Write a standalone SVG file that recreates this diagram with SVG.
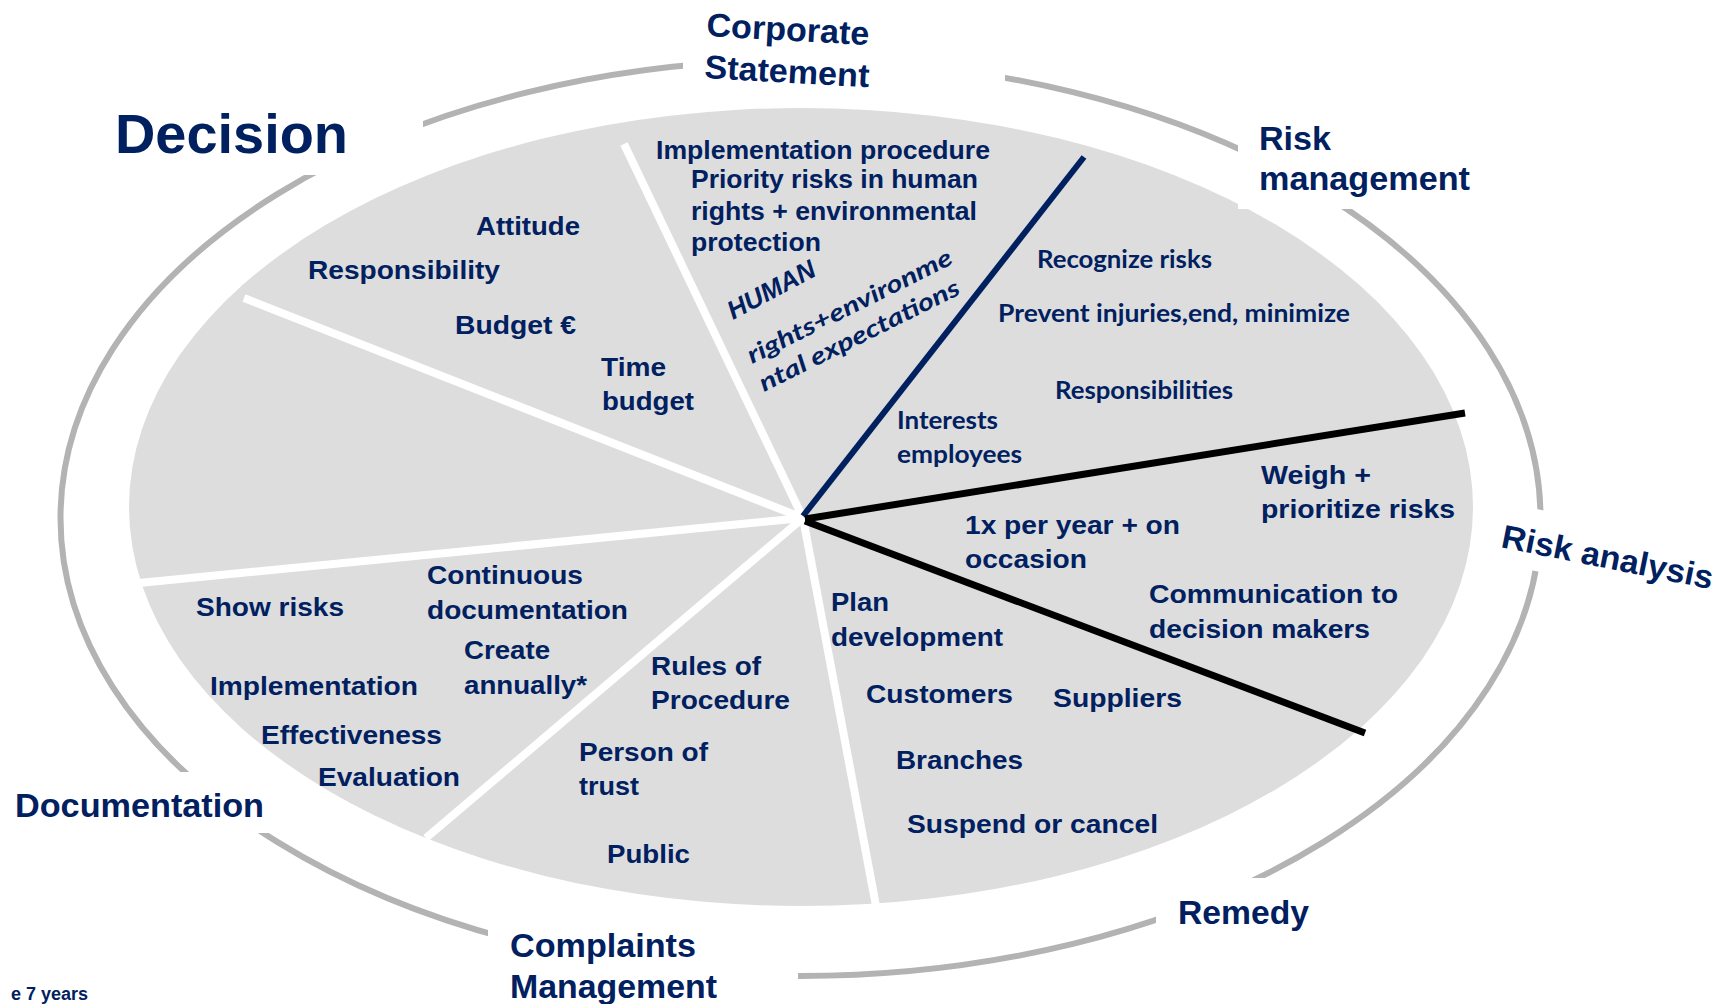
<svg xmlns="http://www.w3.org/2000/svg" width="1721" height="1004" viewBox="0 0 1721 1004">
<style>
text{font-family:"Liberation Sans",Arial,sans-serif;font-weight:bold;fill:#002060}
.h{font-size:33px}
.big{font-size:56px}
.t{font-size:26px}
.c{font-family:Lato,"Open Sans",sans-serif;font-size:24px}
.ci{font-family:Lato,"Open Sans",sans-serif;font-size:24px;font-style:italic}
.box{fill:#ffffff}
.ring{fill:none;stroke:#b3b3b3;stroke-width:6}
.wsp{stroke:#ffffff;stroke-width:8}
</style>
<rect width="1721" height="1004" fill="#ffffff"/>
<g id="ring"><ellipse class="ring" cx="800.5" cy="518" rx="740" ry="458"/></g>
<g id="pie"><ellipse cx="801" cy="507" rx="672" ry="399" fill="#dddddd"/></g>
<g id="connectors">
<line class="wsp" x1="803" y1="518" x2="244" y2="298"/>
<line class="wsp" x1="803" y1="518" x2="624" y2="144"/>
<line class="wsp" x1="803" y1="518" x2="876" y2="906"/>
<line class="wsp" x1="803" y1="518" x2="426" y2="838"/>
<line class="wsp" x1="803" y1="518" x2="139" y2="583"/>
<line x1="803" y1="516" x2="1084" y2="157" stroke="#002060" stroke-width="6"/>
<line x1="805" y1="519" x2="1465" y2="413" stroke="#000000" stroke-width="7"/>
<line x1="805" y1="521" x2="1365" y2="733" stroke="#000000" stroke-width="7"/>
</g>
<g id="label-boxes">
<rect class="box" x="90" y="60" width="333" height="115"/>
<rect class="box" x="683" y="0" width="322" height="100"/>
<rect class="box" x="1238" y="110" width="250" height="99"/>
<rect class="box" x="-10" y="-45" width="240" height="61" transform="translate(1502 548) rotate(11.3)"/>
<rect class="box" x="0" y="772" width="270" height="61"/>
<rect class="box" x="488" y="915" width="310" height="89"/>
<rect class="box" x="1156" y="878" width="174" height="67"/>
</g>
<g id="decision">
<text class="big" x="115" y="153" textLength="233" lengthAdjust="spacingAndGlyphs">Decision</text>
<text class="t" x="476" y="235" textLength="104" lengthAdjust="spacingAndGlyphs">Attitude</text>
<text class="t" x="308" y="279" textLength="192" lengthAdjust="spacingAndGlyphs">Responsibility</text>
<text class="t" x="455" y="334" textLength="121" lengthAdjust="spacingAndGlyphs">Budget €</text>
<text class="t" x="601" y="376" textLength="65" lengthAdjust="spacingAndGlyphs">Time</text>
<text class="t" x="602" y="410" textLength="92" lengthAdjust="spacingAndGlyphs">budget</text>
</g>
<g id="corporate-statement">
<text class="h" x="706" y="36" transform="rotate(3.2 706 36)" textLength="163" lengthAdjust="spacingAndGlyphs">Corporate</text>
<text class="h" x="704" y="78" transform="rotate(3.2 704 78)" textLength="165" lengthAdjust="spacingAndGlyphs">Statement</text>
<text class="t" x="656" y="159" textLength="334" lengthAdjust="spacingAndGlyphs">Implementation procedure</text>
<text class="t" x="691" y="188" textLength="287" lengthAdjust="spacingAndGlyphs">Priority risks in human</text>
<text class="t" x="691" y="220" textLength="286" lengthAdjust="spacingAndGlyphs">rights + environmental</text>
<text class="t" x="691" y="251" textLength="130" lengthAdjust="spacingAndGlyphs">protection</text>
<text class="t" font-style="italic" x="733" y="320" transform="rotate(-28 733 320)" textLength="96" lengthAdjust="spacingAndGlyphs">HUMAN</text>
<text class="ci" x="752" y="364" transform="rotate(-26.5 752 364)" textLength="226" lengthAdjust="spacingAndGlyphs">rights+environme</text>
<text class="ci" x="764" y="392" transform="rotate(-26.5 764 392)" textLength="221" lengthAdjust="spacingAndGlyphs">ntal expectations</text>
</g>
<g id="risk-management">
<text class="h" x="1259" y="150" textLength="72" lengthAdjust="spacingAndGlyphs">Risk</text>
<text class="h" x="1259" y="190" textLength="211" lengthAdjust="spacingAndGlyphs">management</text>
<text class="c" x="1037" y="268" textLength="175" lengthAdjust="spacingAndGlyphs">Recognize risks</text>
<text class="c" x="998" y="322" textLength="352" lengthAdjust="spacingAndGlyphs">Prevent injuries,end, minimize</text>
<text class="c" x="1055" y="399" textLength="178" lengthAdjust="spacingAndGlyphs">Responsibilities</text>
<text class="c" x="897" y="429" textLength="101" lengthAdjust="spacingAndGlyphs">Interests</text>
<text class="c" x="897" y="463" textLength="125" lengthAdjust="spacingAndGlyphs">employees</text>
</g>
<g id="risk-analysis">
<text class="h" x="1500" y="547" transform="rotate(11.3 1500 547)" textLength="215" lengthAdjust="spacingAndGlyphs">Risk analysis</text>
<text class="t" x="1261" y="484" textLength="110" lengthAdjust="spacingAndGlyphs">Weigh +</text>
<text class="t" x="1261" y="518" textLength="194" lengthAdjust="spacingAndGlyphs">prioritize risks</text>
<text class="t" x="965" y="534" textLength="215" lengthAdjust="spacingAndGlyphs">1x per year + on</text>
<text class="t" x="965" y="568" textLength="122" lengthAdjust="spacingAndGlyphs">occasion</text>
<text class="t" x="1149" y="603" textLength="249" lengthAdjust="spacingAndGlyphs">Communication to</text>
<text class="t" x="1149" y="638" textLength="221" lengthAdjust="spacingAndGlyphs">decision makers</text>
</g>
<g id="remedy">
<text class="h" x="1178" y="924" textLength="131" lengthAdjust="spacingAndGlyphs">Remedy</text>
<text class="t" x="831" y="611" textLength="58" lengthAdjust="spacingAndGlyphs">Plan</text>
<text class="t" x="831" y="646" textLength="172" lengthAdjust="spacingAndGlyphs">development</text>
<text class="t" x="866" y="703" textLength="147" lengthAdjust="spacingAndGlyphs">Customers</text>
<text class="t" x="1053" y="707" textLength="129" lengthAdjust="spacingAndGlyphs">Suppliers</text>
<text class="t" x="896" y="769" textLength="127" lengthAdjust="spacingAndGlyphs">Branches</text>
<text class="t" x="907" y="833" textLength="251" lengthAdjust="spacingAndGlyphs">Suspend or cancel</text>
</g>
<g id="complaints-management">
<text class="h" x="510" y="957" textLength="186" lengthAdjust="spacingAndGlyphs">Complaints</text>
<text class="h" x="510" y="998" textLength="207" lengthAdjust="spacingAndGlyphs">Management</text>
<text class="t" x="651" y="675" textLength="110" lengthAdjust="spacingAndGlyphs">Rules of</text>
<text class="t" x="651" y="709" textLength="139" lengthAdjust="spacingAndGlyphs">Procedure</text>
<text class="t" x="579" y="761" textLength="129" lengthAdjust="spacingAndGlyphs">Person of</text>
<text class="t" x="579" y="795" textLength="60" lengthAdjust="spacingAndGlyphs">trust</text>
<text class="t" x="607" y="863" textLength="83" lengthAdjust="spacingAndGlyphs">Public</text>
</g>
<g id="documentation">
<text class="h" x="15" y="817" textLength="249" lengthAdjust="spacingAndGlyphs">Documentation</text>
<text class="t" x="427" y="584" textLength="156" lengthAdjust="spacingAndGlyphs">Continuous</text>
<text class="t" x="427" y="619" textLength="201" lengthAdjust="spacingAndGlyphs">documentation</text>
<text class="t" x="196" y="616" textLength="148" lengthAdjust="spacingAndGlyphs">Show risks</text>
<text class="t" x="464" y="659" textLength="86" lengthAdjust="spacingAndGlyphs">Create</text>
<text class="t" x="464" y="694" textLength="123" lengthAdjust="spacingAndGlyphs">annually*</text>
<text class="t" x="210" y="695" textLength="208" lengthAdjust="spacingAndGlyphs">Implementation</text>
<text class="t" x="261" y="744" textLength="181" lengthAdjust="spacingAndGlyphs">Effectiveness</text>
<text class="t" x="318" y="786" textLength="142" lengthAdjust="spacingAndGlyphs">Evaluation</text>
</g>
<g id="footnote">
<text x="88" y="1000" font-size="18" text-anchor="end">e 7 years</text>
</g>
</svg>
